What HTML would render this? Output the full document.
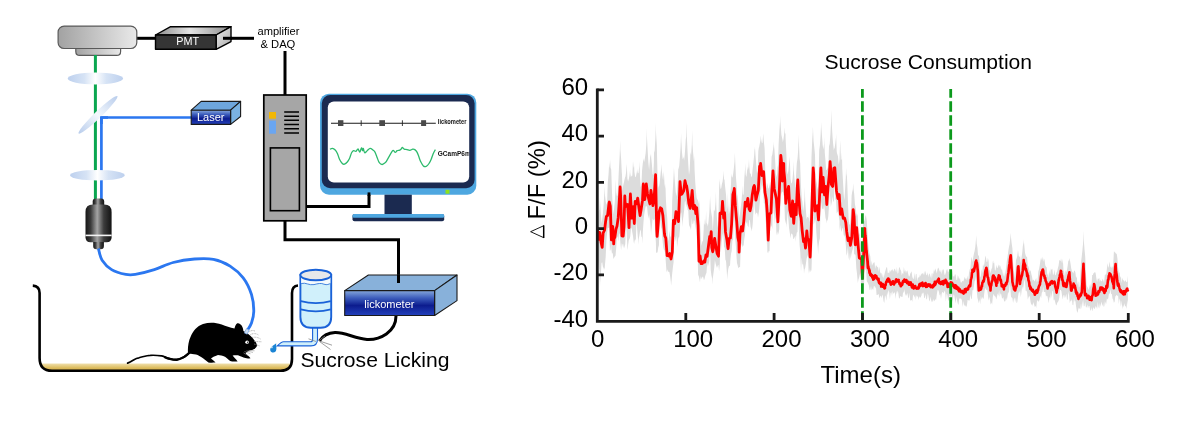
<!DOCTYPE html>
<html><head><meta charset="utf-8">
<style>
html,body{margin:0;padding:0;background:#fff;width:1178px;height:422px;overflow:hidden}
svg{display:block;position:absolute;left:0;top:0;will-change:transform}
text{font-family:"Liberation Sans",sans-serif}
</style></head>
<body>
<svg width="1178" height="422" viewBox="0 0 1178 422">
<defs>
 <linearGradient id="detG" x1="0" y1="0" x2="1" y2="0">
  <stop offset="0" stop-color="#a2a2a2"/><stop offset="1" stop-color="#e9e9e9"/>
 </linearGradient>
 <linearGradient id="pmtTop" x1="0" y1="0" x2="1" y2="0">
  <stop offset="0" stop-color="#8a8a8a"/><stop offset="0.45" stop-color="#e4e4e4"/><stop offset="1" stop-color="#8c8c8c"/>
 </linearGradient>
 <linearGradient id="pmtSide" x1="0" y1="0" x2="1" y2="1">
  <stop offset="0" stop-color="#efefef"/><stop offset="1" stop-color="#a8a8a8"/>
 </linearGradient>
 <linearGradient id="blueFront" x1="0" y1="0" x2="0" y2="1">
  <stop offset="0" stop-color="#86a8dc"/><stop offset="0.3" stop-color="#3c5cbc"/><stop offset="0.6" stop-color="#0c1c8e"/><stop offset="1" stop-color="#2442bc"/>
 </linearGradient>
 <linearGradient id="lensG" x1="0" y1="0" x2="1" y2="0">
  <stop offset="0" stop-color="#bdd0ee"/><stop offset="0.3" stop-color="#d6e3f5"/><stop offset="0.5" stop-color="#ffffff"/><stop offset="0.7" stop-color="#d6e3f5"/><stop offset="1" stop-color="#bdd0ee"/>
 </linearGradient>
 <linearGradient id="splitG" x1="0" y1="0" x2="1" y2="0">
  <stop offset="0" stop-color="#b9cdec"/><stop offset="0.5" stop-color="#f4f8fd"/><stop offset="1" stop-color="#b9cdec"/>
 </linearGradient>
 <linearGradient id="objG" x1="0" y1="0" x2="1" y2="0">
  <stop offset="0" stop-color="#161616"/><stop offset="0.2" stop-color="#3a3a3a"/><stop offset="0.45" stop-color="#a4a4a4"/><stop offset="0.7" stop-color="#3c3c3c"/><stop offset="1" stop-color="#121212"/>
 </linearGradient>
 <linearGradient id="floorG" x1="0" y1="0" x2="0" y2="1">
  <stop offset="0" stop-color="#ffffff"/><stop offset="0.3" stop-color="#f4e8be"/><stop offset="0.75" stop-color="#dcbc5e"/><stop offset="1" stop-color="#cfa844"/>
 </linearGradient>
 <clipPath id="scr"><rect x="327.8" y="101.5" width="141.4" height="80.9" rx="6"/></clipPath>
</defs>

<!-- ============ LEFT DIAGRAM ============ -->
<!-- wires -->
<g fill="none" stroke="#000" stroke-width="3">
 <path d="M136 38.3 H156"/>
 <path d="M223 38.3 H254"/>
 <path d="M285 51 V95"/>
 <path d="M306 206.5 H369 V194"/>
 <path d="M285 221 V239.7 H398.5 V283"/>
 <path d="M396 316 C396 332 380 340 367 339.4 C355 338.6 345 332.2 335 332.6 C327 333 322 337 319.5 341"/>
</g>

<!-- detector -->
<rect x="58.1" y="26.1" width="78.7" height="22.4" rx="6" fill="url(#detG)" stroke="#5a5a5a" stroke-width="1.2"/>
<path d="M75.8 48.5 H120.6 V51.4 Q120.6 55.4 116.6 55.4 H79.8 Q75.8 55.4 75.8 51.4 Z" fill="url(#detG)" stroke="#5a5a5a" stroke-width="1.2"/>

<!-- PMT -->
<g stroke="#000" stroke-width="1.4" stroke-linejoin="round">
 <path d="M155.5 35 L170.6 26.7 H231 L216.1 35 Z" fill="url(#pmtTop)"/>
 <path d="M216.1 35 L231 26.7 V41.6 L216.1 49.3 Z" fill="url(#pmtSide)"/>
 <rect x="155.5" y="35" width="60.6" height="14.3" fill="#353535"/>
</g>
<path d="M223 38.3 H232" stroke="#000" stroke-width="3"/>
<text x="176.2" y="44.8" font-size="10.8" fill="#fff">PMT</text>

<text x="257.5" y="34.5" font-size="11.1" fill="#000">amplifier</text>
<text x="260.5" y="48" font-size="11.2" fill="#000">&amp; DAQ</text>

<!-- green emission path -->
<path d="M95.4 55 V200" stroke="#0aa650" stroke-width="3" fill="none"/>
<!-- blue excitation path -->
<path d="M192 117.5 H101.4 V200" stroke="#2b77f0" stroke-width="2.7" fill="none"/>

<!-- lenses -->
<ellipse cx="95.4" cy="78.5" rx="27.6" ry="5.9" fill="url(#lensG)"/>
<ellipse cx="97.4" cy="175.2" rx="27.4" ry="5.3" fill="url(#lensG)"/>
<!-- beam splitter -->
<ellipse cx="98" cy="114.8" rx="27" ry="3.4" fill="url(#splitG)" transform="rotate(-44 98 114.8)"/>
<path d="M108 117.5 H101.4 V124" stroke="#2b77f0" stroke-width="2.7" fill="none"/>

<!-- laser -->
<g stroke="#1a1a1a" stroke-width="1.1" stroke-linejoin="round">
 <path d="M191.2 110.2 L201.1 101.4 H240.6 L230.6 110.2 Z" fill="#6ea6dc"/>
 <path d="M230.6 110.2 L240.6 101.4 V116.5 L230.6 124.4 Z" fill="#7ab2e2"/>
 <rect x="191.2" y="110.2" width="39.4" height="14.2" fill="url(#blueFront)"/>
</g>
<text x="197" y="120.9" font-size="11" fill="#fff">Laser</text>

<!-- objective -->
<path d="M92.7 205 V201.5 Q92.7 198.5 95.7 198.5 H101.2 Q104.2 198.5 104.2 201.5 V205 Z" fill="url(#objG)"/>
<path d="M85.5 237.3 V212 Q85.5 204.6 92.9 204.6 H104.2 Q111.6 204.6 111.6 212 V237.3 Q111.6 242.3 106.6 242.3 H90.5 Q85.5 242.3 85.5 237.3 Z" fill="url(#objG)"/>
<rect x="85.5" y="234.6" width="26.1" height="1.6" fill="#f4f4f4"/>
<path d="M93.2 242 H103.9 V246 Q103.9 249.2 100.7 249.2 H96.4 Q93.2 249.2 93.2 246 Z" fill="url(#objG)"/>

<!-- fiber to mouse -->
<path d="M98.4 248.5 C99.2 251.3 99.9 256.8 102.1 260.2 C104.3 263.6 107.6 267.2 111.6 269.6 C115.5 272.0 121.8 273.6 125.8 274.4 C129.8 275.2 130.6 275.2 135.3 274.4 C140.1 273.6 148.0 271.6 154.3 269.6 C160.6 267.6 166.5 264.3 173.2 262.5 C179.9 260.7 187.9 259.5 194.6 259.0 C201.3 258.5 207.6 258.2 213.5 259.4 C219.4 260.6 225.2 263.0 230.1 266.1 C235.0 269.2 239.6 273.2 243.2 277.9 C246.8 282.6 249.7 289.0 251.5 294.5 C253.3 300.0 253.8 306.4 253.8 311.1 C253.8 315.9 252.7 319.6 251.5 323.0 C250.3 326.4 247.5 329.9 246.7 331.3" stroke="#2b77f0" stroke-width="2.8" fill="none"/>

<!-- tower -->
<rect x="263.8" y="95" width="42.4" height="125.8" fill="#a6a6a6" stroke="#000" stroke-width="1.7"/>
<rect x="269" y="112" width="7" height="6.7" fill="#f2b705"/>
<rect x="269" y="120.6" width="7" height="13.1" fill="#6aa6f2"/>
<g stroke="#000" stroke-width="1.6">
 <path d="M284.2 112 H299 M284.2 116.2 H299 M284.2 120.3 H299 M284.2 124.5 H299 M284.2 128.7 H299 M284.2 133 H299"/>
</g>
<rect x="270.4" y="147.9" width="29" height="62.8" fill="#a6a6a6" stroke="#000" stroke-width="1.6"/>

<!-- monitor -->
<rect x="320" y="93.7" width="156.3" height="101" rx="9" fill="#4ea7e0"/>
<rect x="321.8" y="95" width="152.8" height="93.3" rx="8.5" fill="#1b2a50"/>
<rect x="327.8" y="101.5" width="141.4" height="80.9" rx="6" fill="#fff"/>
<rect x="445.5" y="189.8" width="4" height="3.9" fill="#8fe21a"/>
<path d="M369 196 V192.4" stroke="#000" stroke-width="2.8"/>
<rect x="384.5" y="194.7" width="27.3" height="19.6" fill="#1b2a50"/>
<rect x="352.5" y="214" width="91.7" height="7.3" rx="2" fill="#1b2a50"/>
<rect x="352.5" y="214" width="91.7" height="3.7" rx="1.5" fill="#4ea7e0"/>
<g clip-path="url(#scr)">
 <path d="M331 123.3 H435.8" stroke="#1a1a1a" stroke-width="1.1"/>
 <g fill="#4a4a4a">
  <rect x="338" y="120.2" width="5.4" height="5.8"/>
  <rect x="379.3" y="120.2" width="5.7" height="5.8"/>
  <rect x="421.1" y="120.2" width="5" height="5.8"/>
 </g>
 <path d="M361.2 120.3 V126 M402.4 120.3 V126" stroke="#222" stroke-width="0.9"/>
 <text x="437.8" y="124.1" font-size="8" fill="#111" textLength="28.6" lengthAdjust="spacingAndGlyphs" style="font-weight:bold">lickometer</text>
 <path d="M329.9 149.2 C330.3 149.1 331.5 148.3 332.4 148.4 C333.3 148.5 334.4 149.2 335.2 150.0 C336.0 150.8 336.7 152.0 337.4 153.5 C338.1 155.0 338.7 157.5 339.5 159.2 C340.3 160.9 341.5 162.7 342.3 163.5 C343.1 164.3 343.7 164.4 344.5 164.2 C345.3 163.9 346.5 162.9 347.3 162.0 C348.1 161.1 348.8 160.0 349.5 158.5 C350.2 157.0 350.9 154.1 351.6 152.8 C352.3 151.5 353.0 150.9 353.7 150.7 C354.4 150.5 355.2 151.7 355.9 151.4 C356.6 151.1 357.4 148.8 358.0 148.9 C358.6 149.0 359.2 152.3 359.8 152.1 C360.4 151.9 361.0 148.0 361.5 147.8 C362.0 147.6 362.3 150.6 362.6 150.7 C362.9 150.8 363.0 148.2 363.3 148.5 C363.6 148.8 364.1 152.4 364.7 152.8 C365.3 153.2 366.3 151.4 367.2 150.7 C368.1 150.0 369.2 148.5 370.1 148.4 C371.1 148.3 372.1 149.4 372.9 150.0 C373.7 150.6 374.3 150.8 375.0 152.1 C375.7 153.4 376.5 156.0 377.2 157.8 C377.9 159.6 378.5 161.6 379.3 162.7 C380.1 163.8 381.2 164.5 382.1 164.5 C383.1 164.5 384.3 163.2 385.0 162.7 C385.7 162.2 385.7 162.4 386.4 161.3 C387.1 160.2 388.2 158.0 389.2 156.3 C390.1 154.7 391.4 152.4 392.1 151.4 C392.8 150.4 393.0 150.3 393.5 150.5 C394.0 150.7 394.7 152.4 395.3 152.4 C395.9 152.4 396.5 151.0 397.1 150.7 C397.8 150.3 398.6 150.6 399.2 150.3 C399.8 150.1 400.5 149.7 401.0 149.2 C401.5 148.7 401.9 147.5 402.4 147.5 C402.9 147.5 403.4 148.8 404.2 149.1 C405.0 149.4 406.1 149.4 407.0 149.6 C407.9 149.8 408.9 150.4 409.9 150.3 C410.8 150.2 411.9 149.3 412.7 149.2 C413.5 149.1 414.1 149.1 414.8 149.6 C415.5 150.1 416.4 151.0 417.0 152.1 C417.6 153.2 418.1 154.8 418.7 156.3 C419.3 157.8 419.7 159.7 420.5 161.3 C421.3 162.9 422.4 165.1 423.4 165.9 C424.3 166.7 425.3 166.7 426.2 166.3 C427.1 165.9 428.2 164.7 429.0 163.5 C429.8 162.3 430.5 160.9 431.2 159.2 C431.9 157.5 432.6 155.1 433.3 153.5 C434.0 151.9 435.0 150.2 435.4 149.6" fill="none" stroke="#2dba6c" stroke-width="1.3"/>
 <text x="437.8" y="155.9" font-size="7.4" fill="#111" textLength="33" lengthAdjust="spacingAndGlyphs" style="font-weight:bold">GCamP6m</text>
</g>

<!-- cage -->
<path d="M39.6 363.6 H292 V360 Q292 370.8 280.5 370.8 H52 Q39.6 370.8 39.6 359 Z" fill="url(#floorG)"/>
<path d="M32.8 285.6 Q39.6 286 39.6 293 V358 Q39.6 370.8 52 370.8 H280.5 Q292 370.8 292 359 V293 Q292 286 298 285.5" fill="none" stroke="#000" stroke-width="2.6"/>

<!-- mouse tail -->
<path d="M127.6 363.1 C133 361 135 358 139 357.8 C144 356.5 147 355.3 150.3 355.3 C156 355 159 355.5 161.7 355.9 C165 356.6 167 358.4 169.3 358.7 C172 359.3 174 359.8 176.8 359.7 C180 359.4 182 358 184.4 356.8 C186.5 355.5 188.5 353.5 190.1 352.1" fill="none" stroke="#000" stroke-width="1.7" stroke-linecap="round"/>
<path d="M165 357.3 C167 358.4 169.3 358.7 169.3 358.7 C172 359.3 174 359.8 176.8 359.7 C180 359.4 182 358 184.4 356.8 C186.5 355.5 188.5 353.5 190.1 352.1" fill="none" stroke="#000" stroke-width="2.4" stroke-linecap="round"/>
<!-- mouse body -->
<path d="M188 353 C187.5 348 188.5 341 190.5 337 C193 331 197 326 203 324 C209 322.2 215 322.2 221.7 324.6 C226 326 230 328 234.5 328.5 C235.2 326 236 323.3 238 323.3 C240.8 323.5 243.2 326.8 243.4 331 C246.5 332.5 250 335 253 338.5 C255.5 341.5 257.5 344.5 256.8 346.3 C256 348.5 253.5 349.5 250.5 350.3 C248 351.2 246 352.2 245.8 353.5 C247 355 249.5 356.5 250.5 358.2 C248 358.6 245 358.4 243.5 357.6 C241 356.5 239.5 355.6 238 355.2 C236 355.2 233.6 355 232.6 355.6 C233.6 357.3 236.2 359.6 237.6 361.4 C234.8 361.7 231.8 361.6 230.2 361 C228 359.5 226.2 357.5 225 356.8 C222.6 355.8 220 355 218 355 C214.5 356.3 212 357.4 211 358.6 C212.5 360 214.5 361.5 215.5 362.6 C212.6 362.8 210 362.8 208.4 362.5 C206.5 361 204.6 359.5 203 358.2 C200.5 356.6 198.2 355 196 354.4 C193.5 354 190.5 354 188 353 Z" fill="#000"/>
<ellipse cx="247.1" cy="342.2" rx="1.8" ry="1.6" fill="#fff"/>
<circle cx="247.7" cy="342.3" r="0.7" fill="#222"/>
<!-- ferrule -->
<path d="M244.4 333 L246.4 328.6 L249.2 330 L247.2 334.2 Z" fill="#cfe0f4" stroke="#6f9fe0" stroke-width="0.6"/>
<!-- whiskers -->
<g stroke="#8a8a8a" stroke-width="0.7" fill="none" stroke-dasharray="0.9 0.7">
 <path d="M249.5 331.5 Q253 329.5 255.5 331.5 M250.5 334.5 Q255 332.5 258.5 335 M252 337.5 Q257 336.5 260.5 339 M254 341.5 L262 341.8 M254 344 L260 346"/>
</g>
<g stroke="#9a9a9a" stroke-width="0.6" fill="none">
 <path d="M244.5 351.5 L250.5 353.8 M246.5 350.8 L253 352.5 M248.5 350.4 L254.5 350.8 M243.5 352.8 L248 355.5"/>
</g>

<!-- drop -->
<path d="M276.2 343.3 C275.8 346 277.3 349.2 275.6 351.5 C274 353 271 352.8 270.3 350.4 C269.8 347.5 273 345.8 276.2 343.3 Z" fill="#1a84d4"/>
<ellipse cx="271.9" cy="347.3" rx="0.8" ry="1.1" fill="#d8ecfa"/>

<!-- bottle -->
<path d="M312.6 326 V339.8 Q312.6 341.8 310.5 341.8 H283.5 Q281.5 341.8 277.2 345.9 H311 Q317.5 345.9 317.5 339 V326 Z" fill="#d0f0fb" stroke="#1a62d8" stroke-width="1.1"/>
<path d="M300.4 275 V317 Q300.4 327.7 311 327.7 H320.6 Q331.2 327.7 331.2 317 V275 Z" fill="#d0f0fb" stroke="#1a62d8" stroke-width="1.9"/>
<path d="M301.2 276 V283.5 C306 282.2 309 285.6 314 284.6 C318 283.6 321 282.8 324 284.2 C327 285.4 329 284 330.4 283.5 V276 Z" fill="#f4fafd"/>
<path d="M301.2 283.5 C306 282.2 309 285.6 314 284.6 C318 283.6 321 282.8 324 284.2 C327 285.4 329 284 330.4 283.5" fill="none" stroke="#1a66d6" stroke-width="0.8"/>
<path d="M300.8 301.2 Q315.8 305.2 330.8 301.2 M300.8 309.4 Q315.8 313.4 330.8 309.4" fill="none" stroke="#1a62d8" stroke-width="1.8"/>
<ellipse cx="315.8" cy="275" rx="15.4" ry="5.3" fill="#e8e8ea" stroke="#1a62d8" stroke-width="1.9"/>
<g stroke="#888" stroke-width="0.8" fill="none">
 <path d="M319.5 341 L332 345.2 M319.5 341.5 L330.5 349.5 M319 340.5 L325 336 M316 341.5 L308.5 338.8"/>
</g>

<!-- lickometer -->
<g stroke="#1a1a1a" stroke-width="1.1" stroke-linejoin="round">
 <path d="M344.7 290.6 L368.4 275 H457 L434.6 290.6 Z" fill="#88b1da"/>
 <path d="M434.6 290.6 L457 275 V300.6 L434.6 315.5 Z" fill="#88b1da"/>
 <rect x="344.7" y="290.6" width="89.9" height="24.9" fill="url(#blueFront)"/>
</g>
<path d="M398.5 275 V283" stroke="#000" stroke-width="3"/>
<text x="364.3" y="308.4" font-size="11" fill="#fff">lickometer</text>

<text x="300.5" y="366.5" font-size="21.1" fill="#000">Sucrose Licking</text>

<!-- ============ CHART ============ -->
<path d="M597.3 221.6 L598.0 216.6 L598.7 210.8 L599.4 209.8 L600.0 197.2 L600.1 201.4 L600.8 212.4 L601.5 223.5 L602.2 219.4 L602.9 213.4 L603.6 205.4 L604.3 193.2 L604.5 186.2 L605.0 195.6 L605.7 201.4 L606.4 204.7 L607.1 202.8 L607.8 182.1 L608.5 174.7 L609.0 166.6 L609.2 167.8 L609.9 162.4 L610.0 158.8 L610.6 167.8 L611.2 169.6 L611.3 171.9 L612.0 192.6 L612.7 205.0 L613.4 214.3 L614.1 208.7 L614.8 202.0 L615.5 188.4 L615.7 179.1 L616.2 192.2 L616.9 196.0 L617.6 195.5 L617.8 190.5 L618.3 181.4 L619.0 167.3 L619.7 154.8 L620.2 140.3 L620.4 149.7 L621.1 158.3 L621.8 172.3 L622.0 174.7 L622.5 190.9 L623.2 185.6 L623.9 182.5 L624.6 179.2 L625.3 176.5 L625.4 177.0 L626.0 173.1 L626.7 164.2 L626.7 162.4 L627.4 178.5 L628.1 181.4 L628.8 179.0 L629.5 175.5 L630.1 169.4 L630.2 172.8 L630.9 177.2 L631.6 175.7 L632.3 175.7 L633.0 161.1 L633.0 161.1 L633.7 168.1 L634.1 166.0 L634.4 171.8 L635.1 176.5 L635.8 177.2 L636.5 173.5 L636.8 172.3 L637.2 168.0 L637.2 170.1 L637.9 173.4 L638.6 172.8 L639.3 165.4 L639.4 160.7 L640.0 176.2 L640.7 187.3 L641.4 185.2 L642.1 170.1 L642.8 163.3 L643.5 158.9 L643.5 157.8 L643.9 160.4 L644.2 161.9 L644.9 157.9 L645.6 153.4 L646.3 144.8 L646.8 128.0 L646.9 135.4 L647.0 138.2 L647.7 150.7 L648.4 162.9 L649.1 170.0 L649.8 161.3 L650.3 154.7 L650.5 157.0 L651.0 153.3 L651.2 157.4 L651.9 164.3 L652.6 174.1 L653.3 175.3 L653.9 162.4 L654.0 153.1 L654.7 150.2 L655.4 137.7 L655.8 122.5 L655.9 130.5 L656.1 134.0 L656.8 144.8 L657.5 174.7 L658.2 189.4 L658.7 185.2 L658.9 187.3 L659.6 183.5 L660.3 176.4 L661.0 169.8 L661.3 165.2 L661.4 164.0 L661.7 169.7 L662.4 175.5 L663.1 180.3 L663.8 171.0 L663.8 171.0 L664.5 183.7 L665.2 188.2 L665.4 182.9 L665.9 199.5 L666.6 211.6 L667.3 218.6 L668.0 241.3 L668.7 238.9 L669.4 231.1 L669.4 229.4 L670.1 235.9 L670.8 237.0 L671.5 240.5 L672.2 200.6 L672.9 188.3 L673.6 175.3 L674.0 166.3 L674.0 168.0 L674.3 173.6 L675.0 183.0 L675.7 192.0 L676.4 196.4 L677.1 191.3 L677.8 181.7 L678.2 169.5 L678.5 168.8 L679.2 166.0 L679.9 157.5 L680.6 147.1 L681.1 132.7 L681.3 140.4 L681.3 140.4 L682.0 152.4 L682.7 159.6 L683.4 157.2 L683.5 156.2 L684.1 160.7 L684.8 154.1 L685.5 144.0 L685.7 140.1 L686.2 136.2 L686.6 122.5 L686.9 137.4 L687.6 152.5 L688.3 164.9 L689.0 174.9 L689.7 169.8 L690.4 153.7 L690.4 152.0 L691.1 155.0 L691.8 144.5 L692.2 130.3 L692.5 144.4 L693.2 153.6 L693.9 161.4 L694.2 155.6 L694.6 170.3 L695.3 182.9 L696.0 192.0 L696.7 198.0 L697.4 199.5 L698.1 200.6 L698.8 204.3 L699.1 199.5 L699.5 204.1 L700.2 225.4 L700.9 239.4 L701.6 245.8 L702.3 241.6 L703.0 241.0 L703.7 229.5 L704.1 218.5 L704.4 223.4 L705.1 225.2 L705.8 219.0 L706.1 210.6 L706.5 223.1 L707.2 224.0 L707.9 226.5 L708.6 220.6 L709.3 212.4 L710.0 197.9 L710.0 194.9 L710.7 208.8 L711.4 213.6 L712.1 217.5 L712.8 230.7 L713.5 218.1 L713.9 209.5 L714.2 211.6 L714.9 209.4 L715.6 202.0 L715.9 191.4 L716.3 205.8 L717.0 219.6 L717.7 227.9 L718.4 220.6 L719.1 188.0 L719.8 178.3 L719.8 180.3 L720.5 189.1 L721.2 188.2 L721.9 184.1 L722.6 181.6 L723.3 175.0 L723.5 170.5 L724.0 179.6 L724.5 179.4 L724.7 182.5 L725.4 189.3 L726.1 195.5 L726.8 211.4 L727.5 206.0 L727.9 192.7 L728.2 203.9 L728.9 214.2 L729.6 210.6 L730.3 193.7 L731.0 184.7 L731.3 173.3 L731.7 176.3 L732.4 177.7 L733.1 174.5 L733.8 168.7 L734.4 162.7 L734.5 161.7 L734.9 152.6 L735.2 160.5 L735.9 176.1 L736.6 185.2 L737.3 196.3 L737.4 193.9 L738.0 200.5 L738.7 211.1 L739.4 218.2 L740.1 212.6 L740.8 206.9 L741.5 200.9 L742.2 192.0 L742.4 185.2 L742.9 195.5 L743.6 193.9 L744.3 178.2 L745.0 169.2 L745.2 162.8 L745.7 174.8 L746.4 177.1 L747.1 171.1 L747.5 166.3 L747.8 169.9 L748.5 166.9 L749.0 159.0 L749.2 164.5 L749.9 173.2 L750.6 174.0 L750.7 172.4 L751.3 177.6 L752.0 176.0 L752.7 168.6 L753.4 162.8 L754.1 155.7 L754.5 149.7 L754.8 148.7 L754.9 146.2 L755.5 155.3 L756.2 163.4 L756.9 172.6 L757.6 172.6 L758.3 151.3 L758.9 147.2 L759.0 147.7 L759.7 144.1 L760.4 140.3 L760.8 135.4 L761.1 138.9 L761.8 142.8 L762.5 142.9 L763.2 133.2 L763.2 133.2 L763.8 140.8 L763.9 142.1 L764.6 148.4 L765.3 170.9 L766.0 181.4 L766.7 188.2 L767.4 182.9 L767.4 182.4 L768.1 187.4 L768.8 189.1 L769.5 182.0 L769.5 184.0 L770.2 190.2 L770.9 180.5 L771.6 156.7 L772.3 154.6 L773.0 149.5 L773.7 144.4 L773.8 141.5 L774.1 147.0 L774.4 149.2 L775.1 159.8 L775.8 173.3 L776.5 177.6 L777.2 173.2 L777.6 165.2 L777.9 167.4 L778.6 144.5 L779.3 131.3 L780.0 122.0 L780.2 115.4 L780.4 121.7 L780.7 125.6 L781.4 134.8 L782.1 138.0 L782.6 140.2 L782.8 142.2 L783.5 139.0 L784.2 133.4 L784.5 127.2 L784.9 133.1 L785.5 133.7 L785.6 138.6 L786.3 151.8 L787.0 170.9 L787.7 174.8 L788.4 170.6 L789.1 163.6 L789.8 156.2 L789.8 157.9 L790.5 178.7 L791.2 182.7 L791.9 183.5 L792.6 178.3 L793.3 169.8 L793.6 161.1 L794.0 173.3 L794.7 180.9 L795.4 188.8 L796.1 175.0 L796.8 163.3 L797.5 158.7 L797.8 155.3 L798.2 149.0 L798.7 134.4 L798.9 142.2 L799.6 158.6 L800.2 163.6 L800.3 168.4 L801.0 186.7 L801.7 197.6 L802.4 202.0 L803.1 211.5 L803.8 206.0 L804.5 197.4 L804.7 186.7 L805.2 200.5 L805.9 210.1 L806.6 219.3 L807.3 217.1 L808.0 216.9 L808.7 218.4 L809.0 212.7 L809.4 219.7 L810.1 222.7 L810.8 200.2 L811.5 157.1 L812.2 139.9 L812.7 132.6 L812.9 126.5 L812.9 126.5 L813.6 141.3 L814.3 147.6 L815.0 155.0 L815.7 185.9 L816.4 181.0 L816.5 178.0 L817.1 186.6 L817.8 189.7 L818.5 182.9 L819.2 150.2 L819.9 145.1 L820.6 135.2 L821.2 121.8 L821.3 125.9 L821.4 127.7 L822.0 135.9 L822.7 145.3 L823.4 149.4 L824.1 143.8 L824.2 136.7 L824.8 152.9 L825.5 161.1 L826.2 170.3 L826.9 170.0 L827.4 165.9 L827.6 169.2 L828.3 167.3 L829.0 146.2 L829.7 143.7 L830.4 134.6 L831.1 120.9 L831.4 109.0 L831.4 110.4 L831.8 124.2 L832.5 136.2 L833.2 144.4 L833.9 150.5 L834.1 148.8 L834.6 147.9 L835.3 143.6 L836.0 137.2 L836.1 133.2 L836.7 151.2 L837.4 156.4 L837.9 153.1 L838.1 157.7 L838.8 164.8 L839.5 159.6 L840.2 140.3 L840.2 140.3 L840.9 160.1 L841.6 159.2 L841.9 152.2 L842.3 169.0 L843.0 181.5 L843.7 194.5 L844.4 200.4 L845.1 189.6 L845.8 177.3 L846.1 167.5 L846.5 176.3 L846.8 173.7 L847.2 181.8 L847.9 200.2 L848.6 218.7 L849.3 224.0 L850.0 225.0 L850.7 217.5 L851.4 203.4 L851.6 196.1 L852.1 192.3 L852.8 189.4 L853.2 182.9 L853.5 188.6 L854.2 193.7 L854.9 203.7 L855.6 208.0 L856.1 211.2 L856.3 213.3 L857.0 216.2 L857.7 213.5 L858.4 234.9 L859.1 232.7 L859.8 235.3 L859.8 236.8 L860.5 241.1 L861.2 245.6 L861.9 247.8 L862.6 243.7 L863.3 215.5 L864.0 221.6 L864.7 220.1 L865.4 216.1 L866.0 215.0 L866.1 216.3 L866.8 220.5 L867.5 233.3 L868.2 243.7 L868.9 250.0 L869.6 254.0 L870.3 256.3 L871.0 266.2 L871.7 260.6 L872.4 265.6 L873.1 263.4 L873.8 262.4 L874.5 262.3 L875.2 269.1 L875.9 265.2 L876.6 265.8 L877.3 267.6 L878.0 266.4 L878.7 271.8 L879.4 266.5 L880.1 272.0 L880.8 273.4 L881.5 273.1 L882.2 277.6 L882.9 273.4 L883.6 278.5 L884.3 275.1 L885.0 272.0 L885.7 269.8 L886.4 267.2 L887.1 267.4 L887.8 273.2 L888.5 272.4 L889.2 273.3 L889.9 269.7 L890.6 271.9 L891.3 269.6 L892.0 271.1 L892.7 268.7 L893.4 271.7 L894.1 269.6 L894.8 268.6 L895.5 270.4 L896.2 272.4 L896.9 267.0 L897.6 273.8 L898.3 272.9 L899.0 268.0 L899.7 267.0 L900.4 269.8 L901.1 270.8 L901.8 275.4 L902.5 272.7 L903.2 274.2 L903.9 266.7 L904.6 272.0 L905.3 269.9 L906.0 273.2 L906.7 271.1 L907.4 270.5 L908.1 273.5 L908.8 276.3 L909.5 276.6 L910.2 273.7 L910.9 272.5 L911.6 271.3 L912.3 277.1 L913.0 278.4 L913.7 279.3 L914.4 272.5 L915.1 280.4 L915.8 274.3 L916.5 273.8 L917.2 281.6 L917.9 277.6 L918.6 277.5 L919.3 277.2 L920.0 274.3 L920.7 276.5 L921.4 273.6 L922.1 273.9 L922.8 272.7 L923.5 275.0 L924.2 271.0 L924.9 275.0 L925.6 270.6 L926.3 275.1 L927.0 275.2 L927.7 272.2 L928.4 277.2 L929.1 273.5 L929.8 273.9 L930.5 278.0 L931.2 272.7 L931.9 279.1 L932.6 273.1 L933.3 273.9 L934.0 269.1 L934.7 271.9 L935.4 268.3 L936.1 271.1 L936.8 273.4 L937.5 269.2 L938.2 267.5 L938.9 268.7 L939.6 271.1 L940.3 272.2 L941.0 269.5 L941.7 274.2 L942.4 270.3 L943.1 269.0 L943.8 270.3 L944.5 274.8 L945.2 274.8 L945.9 272.6 L946.6 269.7 L947.3 269.0 L948.0 272.4 L948.7 270.9 L949.4 274.0 L950.1 274.2 L950.8 271.5 L951.5 271.9 L952.2 271.1 L952.9 275.9 L953.6 276.5 L954.3 276.5 L955.0 273.9 L955.7 275.0 L956.4 280.0 L957.1 280.1 L957.8 274.9 L958.5 277.1 L959.2 279.8 L959.9 277.6 L960.6 282.2 L961.3 282.7 L962.0 281.6 L962.7 281.1 L963.4 281.6 L964.1 278.9 L964.8 276.8 L965.5 279.2 L966.2 278.0 L966.9 280.3 L967.6 275.5 L968.3 280.5 L969.0 272.7 L969.7 269.6 L970.4 267.4 L971.1 259.7 L971.8 256.7 L972.5 262.3 L973.2 257.5 L973.9 253.8 L974.6 251.1 L975.3 246.7 L976.0 238.9 L976.2 235.0 L976.7 243.8 L977.4 247.4 L978.1 256.0 L978.8 255.0 L979.5 260.5 L980.2 277.6 L980.9 276.0 L981.6 268.9 L982.3 273.3 L983.0 263.7 L983.7 266.4 L984.4 263.4 L985.1 258.0 L985.8 255.4 L986.5 261.7 L987.2 262.0 L987.9 257.7 L988.6 261.0 L989.3 270.4 L990.0 270.0 L990.7 273.4 L991.4 269.0 L992.1 267.9 L992.8 261.6 L993.2 260.5 L993.5 263.4 L994.2 262.6 L994.9 270.2 L995.6 270.6 L996.3 264.8 L997.0 268.3 L997.7 267.8 L998.4 264.3 L999.1 267.6 L999.8 264.7 L1000.5 266.6 L1001.2 270.2 L1001.9 268.2 L1002.6 272.4 L1003.3 276.4 L1004.0 272.1 L1004.7 277.0 L1005.4 272.1 L1006.1 267.5 L1006.8 261.0 L1007.5 257.2 L1008.2 251.7 L1008.9 247.3 L1009.6 244.3 L1010.3 237.6 L1010.7 232.8 L1011.0 237.4 L1011.7 243.5 L1012.4 248.2 L1013.1 263.1 L1013.8 269.4 L1014.5 275.4 L1015.2 278.9 L1015.9 260.3 L1016.6 258.4 L1017.3 255.9 L1018.0 250.0 L1018.0 250.0 L1018.7 256.0 L1019.4 257.2 L1020.1 255.5 L1020.8 263.0 L1021.5 257.5 L1022.2 253.1 L1022.9 245.5 L1023.6 242.5 L1023.7 239.2 L1024.3 245.5 L1025.0 252.7 L1025.7 255.4 L1026.4 256.8 L1027.1 256.9 L1027.8 265.2 L1028.5 266.7 L1029.2 269.7 L1029.9 271.7 L1030.6 269.9 L1031.3 273.9 L1032.0 276.4 L1032.7 280.7 L1033.4 279.4 L1034.1 280.5 L1034.8 281.5 L1035.5 279.6 L1036.2 278.0 L1036.9 282.6 L1037.6 280.3 L1038.3 271.6 L1039.0 269.3 L1039.7 265.4 L1040.4 260.8 L1041.1 257.5 L1041.8 260.5 L1042.3 256.3 L1042.5 258.6 L1043.2 261.7 L1043.9 258.3 L1044.6 260.3 L1045.3 265.4 L1046.0 266.8 L1046.7 267.4 L1047.4 275.4 L1048.1 273.1 L1048.8 278.1 L1049.5 270.1 L1050.2 274.8 L1050.9 268.2 L1051.6 270.0 L1052.3 268.6 L1053.0 275.1 L1053.7 274.2 L1054.4 269.4 L1055.1 275.6 L1055.8 274.7 L1056.5 272.4 L1057.2 271.3 L1057.9 268.1 L1058.6 265.6 L1059.3 260.1 L1060.0 260.4 L1060.7 260.9 L1061.0 258.0 L1061.4 260.2 L1062.1 263.6 L1062.8 258.7 L1063.5 270.5 L1064.2 272.3 L1064.9 277.0 L1065.6 270.2 L1066.3 272.6 L1067.0 269.8 L1067.7 265.5 L1068.4 260.2 L1069.1 261.0 L1069.4 258.0 L1069.8 259.4 L1070.5 263.4 L1071.2 268.2 L1071.9 271.3 L1072.6 272.0 L1073.3 273.6 L1074.0 270.9 L1074.7 270.5 L1075.4 272.6 L1076.1 278.1 L1076.8 276.2 L1077.5 284.9 L1078.2 281.1 L1078.9 287.6 L1079.6 286.4 L1080.3 276.4 L1081.0 262.7 L1081.7 256.7 L1082.4 250.6 L1083.1 243.1 L1083.5 230.7 L1083.8 240.2 L1084.5 249.2 L1085.2 256.4 L1085.9 272.0 L1086.6 285.0 L1087.3 286.8 L1088.0 287.9 L1088.7 289.9 L1089.4 286.9 L1090.1 283.7 L1090.8 287.0 L1091.5 284.4 L1092.2 275.0 L1092.9 275.1 L1093.6 273.0 L1094.3 272.7 L1095.0 271.8 L1095.7 273.6 L1096.4 278.5 L1097.1 282.2 L1097.8 278.6 L1098.5 279.0 L1099.2 277.8 L1099.9 282.1 L1100.6 279.5 L1101.3 281.2 L1102.0 281.3 L1102.7 278.6 L1103.4 280.7 L1104.1 283.1 L1104.8 274.9 L1105.5 274.6 L1106.2 274.3 L1106.9 268.8 L1107.6 262.9 L1108.3 268.1 L1109.0 265.7 L1109.7 261.3 L1110.4 267.4 L1111.1 266.2 L1111.8 268.2 L1112.5 266.9 L1113.2 265.2 L1113.9 251.4 L1114.6 251.7 L1115.3 253.6 L1115.5 252.0 L1116.0 253.7 L1116.7 253.7 L1117.4 258.2 L1118.1 268.1 L1118.8 273.8 L1119.5 271.8 L1120.2 278.1 L1120.9 276.0 L1121.6 283.2 L1122.3 277.6 L1123.0 280.5 L1123.7 280.0 L1124.4 281.9 L1125.1 279.9 L1125.8 280.9 L1126.5 282.3 L1127.2 281.8 L1127.9 275.8 L1127.9 305.2 L1127.2 300.0 L1126.5 309.0 L1125.8 306.1 L1125.1 306.5 L1124.4 303.0 L1123.7 307.4 L1123.0 304.8 L1122.3 309.3 L1121.6 300.6 L1120.9 306.7 L1120.2 300.8 L1119.5 298.6 L1118.8 304.1 L1118.1 295.6 L1117.4 296.1 L1116.7 294.7 L1116.0 295.8 L1115.3 296.5 L1114.6 301.8 L1113.9 302.7 L1113.2 299.7 L1112.5 298.6 L1111.8 293.7 L1111.1 294.2 L1110.4 289.0 L1109.7 294.3 L1109.0 293.1 L1108.3 298.3 L1107.6 299.6 L1106.9 298.2 L1106.2 304.0 L1105.5 301.5 L1104.8 306.9 L1104.1 301.0 L1103.4 307.0 L1102.7 305.6 L1102.0 303.9 L1101.3 301.6 L1100.6 307.1 L1099.9 302.9 L1099.2 308.6 L1098.5 306.9 L1097.8 301.8 L1097.1 309.2 L1096.4 307.0 L1095.7 306.0 L1095.0 308.3 L1094.3 309.3 L1093.6 307.1 L1092.9 309.3 L1092.2 311.2 L1091.5 307.1 L1090.8 310.9 L1090.1 309.4 L1089.4 306.0 L1088.7 306.0 L1088.0 308.5 L1087.3 304.6 L1086.6 307.6 L1085.9 307.2 L1085.2 301.8 L1084.5 306.3 L1083.8 306.2 L1083.1 299.4 L1082.4 303.5 L1081.7 309.0 L1081.0 303.1 L1080.3 309.3 L1079.6 308.7 L1078.9 307.5 L1078.2 309.5 L1077.5 313.0 L1076.8 311.1 L1076.1 306.4 L1075.4 301.1 L1074.7 301.4 L1074.0 297.0 L1073.3 305.3 L1072.6 304.9 L1071.9 299.0 L1071.2 300.9 L1070.5 300.7 L1069.8 303.3 L1069.1 295.2 L1068.4 291.6 L1067.7 299.4 L1067.0 299.8 L1066.3 293.8 L1065.6 296.3 L1064.9 298.2 L1064.2 295.1 L1063.5 295.2 L1062.8 299.6 L1062.1 295.9 L1061.4 291.2 L1060.7 290.0 L1060.0 290.1 L1059.3 297.5 L1058.6 300.7 L1057.9 301.9 L1057.2 302.7 L1056.5 305.6 L1055.8 304.4 L1055.1 301.8 L1054.4 299.3 L1053.7 300.5 L1053.0 290.9 L1052.3 291.3 L1051.6 298.1 L1050.9 292.3 L1050.2 298.7 L1049.5 296.5 L1048.8 303.3 L1048.1 299.7 L1047.4 296.2 L1046.7 295.4 L1046.0 296.8 L1045.3 292.0 L1044.6 292.1 L1043.9 292.1 L1043.2 286.6 L1042.5 291.7 L1041.8 292.8 L1041.1 298.2 L1040.4 295.6 L1039.7 298.9 L1039.0 301.5 L1038.3 301.5 L1037.6 300.1 L1036.9 301.4 L1036.2 308.1 L1035.5 305.8 L1034.8 307.1 L1034.1 304.4 L1033.4 302.1 L1032.7 306.0 L1032.0 303.6 L1031.3 305.3 L1030.6 301.9 L1029.9 297.0 L1029.2 295.8 L1028.5 297.4 L1027.8 299.6 L1027.1 292.3 L1026.4 290.5 L1025.7 291.0 L1025.0 282.2 L1024.3 279.1 L1023.6 285.6 L1022.9 289.6 L1022.2 286.3 L1021.5 291.7 L1020.8 297.2 L1020.1 290.3 L1019.4 292.5 L1018.7 292.6 L1018.0 296.5 L1017.3 302.3 L1016.6 303.3 L1015.9 297.3 L1015.2 302.3 L1014.5 297.6 L1013.8 299.2 L1013.1 303.1 L1012.4 298.0 L1011.7 297.5 L1011.0 297.0 L1010.3 287.2 L1009.6 283.9 L1008.9 293.8 L1008.2 291.6 L1007.5 296.1 L1006.8 300.5 L1006.1 297.5 L1005.4 300.9 L1004.7 301.7 L1004.0 300.8 L1003.3 297.0 L1002.6 298.7 L1001.9 297.8 L1001.2 294.3 L1000.5 293.3 L999.8 296.9 L999.1 290.3 L998.4 296.0 L997.7 293.3 L997.0 296.7 L996.3 299.6 L995.6 296.7 L994.9 296.3 L994.2 295.4 L993.5 293.7 L992.8 297.0 L992.1 304.7 L991.4 302.2 L990.7 304.7 L990.0 300.6 L989.3 296.8 L988.6 300.7 L987.9 294.7 L987.2 289.5 L986.5 290.3 L985.8 288.8 L985.1 288.1 L984.4 292.3 L983.7 298.3 L983.0 298.9 L982.3 296.7 L981.6 299.8 L980.9 295.8 L980.2 304.4 L979.5 299.1 L978.8 303.3 L978.1 300.2 L977.4 297.8 L976.7 290.4 L976.0 276.1 L975.3 280.3 L974.6 281.2 L973.9 286.6 L973.2 290.5 L972.5 290.0 L971.8 299.3 L971.1 298.4 L970.4 293.9 L969.7 300.0 L969.0 300.9 L968.3 300.1 L967.6 300.0 L966.9 305.2 L966.2 307.0 L965.5 306.0 L964.8 304.6 L964.1 306.2 L963.4 300.7 L962.7 307.1 L962.0 300.8 L961.3 298.8 L960.6 298.5 L959.9 298.5 L959.2 298.4 L958.5 305.1 L957.8 303.5 L957.1 300.7 L956.4 296.5 L955.7 303.3 L955.0 299.8 L954.3 295.6 L953.6 294.2 L952.9 298.7 L952.2 301.9 L951.5 293.7 L950.8 297.0 L950.1 295.7 L949.4 295.7 L948.7 301.3 L948.0 299.4 L947.3 295.0 L946.6 293.5 L945.9 301.8 L945.2 291.9 L944.5 290.4 L943.8 293.5 L943.1 292.2 L942.4 292.1 L941.7 293.7 L941.0 298.9 L940.3 294.0 L939.6 295.4 L938.9 291.8 L938.2 289.9 L937.5 290.3 L936.8 294.5 L936.1 300.2 L935.4 299.1 L934.7 300.4 L934.0 301.5 L933.3 298.9 L932.6 301.2 L931.9 302.3 L931.2 300.3 L930.5 296.6 L929.8 301.4 L929.1 300.1 L928.4 295.5 L927.7 293.3 L927.0 299.3 L926.3 299.3 L925.6 294.1 L924.9 297.8 L924.2 298.2 L923.5 292.3 L922.8 293.9 L922.1 292.5 L921.4 295.7 L920.7 296.9 L920.0 297.9 L919.3 296.1 L918.6 300.3 L917.9 295.6 L917.2 297.2 L916.5 294.9 L915.8 300.0 L915.1 295.0 L914.4 297.8 L913.7 294.6 L913.0 295.8 L912.3 301.8 L911.6 299.9 L910.9 300.1 L910.2 301.0 L909.5 292.6 L908.8 298.5 L908.1 297.3 L907.4 292.8 L906.7 296.0 L906.0 293.6 L905.3 296.0 L904.6 289.1 L903.9 293.3 L903.2 291.3 L902.5 297.1 L901.8 296.7 L901.1 296.7 L900.4 295.7 L899.7 298.3 L899.0 298.6 L898.3 292.8 L897.6 290.4 L896.9 294.5 L896.2 290.9 L895.5 299.2 L894.8 292.2 L894.1 292.8 L893.4 294.0 L892.7 290.9 L892.0 296.1 L891.3 292.2 L890.6 292.9 L889.9 299.2 L889.2 292.0 L888.5 289.9 L887.8 295.2 L887.1 291.7 L886.4 300.8 L885.7 296.7 L885.0 295.3 L884.3 303.0 L883.6 301.2 L882.9 296.3 L882.2 294.6 L881.5 298.3 L880.8 295.6 L880.1 296.5 L879.4 298.6 L878.7 294.0 L878.0 294.5 L877.3 294.9 L876.6 295.1 L875.9 286.4 L875.2 288.6 L874.5 285.7 L873.8 286.2 L873.1 290.2 L872.4 288.3 L871.7 290.4 L871.0 286.1 L870.3 289.7 L869.6 290.1 L868.9 285.5 L868.2 283.5 L867.5 282.3 L866.8 281.3 L866.1 269.5 L865.4 269.8 L864.7 264.1 L864.0 285.8 L863.3 294.0 L862.7 289.0 L862.6 290.0 L861.9 289.3 L861.2 288.6 L860.5 272.5 L859.8 274.4 L859.1 277.7 L858.4 279.4 L857.9 283.0 L857.8 282.4 L857.7 281.4 L857.0 273.7 L856.3 267.9 L855.6 255.5 L854.9 254.0 L854.2 254.7 L853.5 240.8 L853.4 243.6 L852.8 248.7 L852.1 251.2 L851.4 254.3 L850.7 258.9 L850.0 252.4 L849.3 260.7 L848.6 257.4 L847.9 247.0 L847.2 252.9 L846.5 255.8 L845.8 245.1 L845.1 237.5 L845.0 237.7 L844.4 235.5 L843.7 235.2 L843.0 228.3 L842.3 228.3 L841.6 231.9 L840.9 229.4 L840.2 225.1 L839.5 230.9 L839.5 221.3 L838.8 216.5 L838.1 211.1 L837.4 212.3 L836.7 213.5 L836.0 200.3 L835.3 199.3 L834.6 180.3 L833.9 200.2 L833.2 202.3 L832.5 196.3 L831.8 202.1 L831.1 205.5 L830.9 207.3 L830.4 200.6 L829.7 191.0 L829.0 205.8 L828.3 216.2 L827.6 220.4 L826.9 220.5 L826.7 223.7 L826.2 220.0 L825.5 217.9 L824.8 211.0 L824.1 204.3 L823.4 209.3 L822.7 208.5 L822.0 208.9 L821.3 203.1 L820.6 200.5 L819.9 238.3 L819.2 241.1 L818.5 246.5 L818.1 254.6 L817.8 247.9 L817.1 241.5 L816.4 233.3 L815.7 222.3 L815.0 218.5 L814.3 223.0 L813.6 224.8 L812.9 199.4 L812.2 248.9 L811.5 269.5 L810.8 272.2 L810.1 269.4 L809.4 273.0 L809.2 267.5 L808.7 273.9 L808.0 254.7 L807.3 256.6 L806.6 258.6 L805.9 263.8 L805.2 268.1 L804.5 269.5 L804.0 274.1 L803.8 269.2 L803.1 264.2 L802.4 264.6 L801.7 257.5 L801.0 272.0 L801.0 272.0 L800.3 252.8 L799.6 244.8 L798.9 229.7 L798.2 206.5 L797.5 232.1 L796.8 232.4 L796.1 237.1 L795.8 242.1 L795.4 235.8 L794.7 237.1 L794.0 238.7 L793.3 239.1 L792.6 234.5 L791.9 234.1 L791.2 233.2 L790.7 238.4 L790.5 237.2 L789.8 233.1 L789.1 228.3 L788.4 219.8 L787.7 211.2 L787.0 220.0 L786.4 227.9 L786.3 224.4 L785.6 222.2 L784.9 219.1 L784.2 196.0 L783.5 195.2 L782.8 191.7 L782.1 191.8 L781.4 193.2 L780.7 196.0 L780.0 219.8 L779.4 214.3 L779.3 228.9 L778.6 232.8 L777.9 234.9 L777.2 231.3 L776.5 235.7 L775.8 217.0 L775.1 219.8 L774.9 224.8 L774.4 216.0 L773.7 212.4 L773.0 202.9 L772.3 229.2 L771.6 225.0 L770.9 227.5 L770.2 221.3 L769.5 251.4 L768.8 250.7 L768.1 253.2 L767.4 252.0 L766.7 227.7 L766.7 246.8 L766.0 224.8 L765.3 216.5 L764.6 203.5 L763.9 203.2 L763.2 190.9 L762.5 186.8 L761.8 184.5 L761.1 190.0 L760.4 189.4 L759.7 203.2 L759.0 211.0 L758.3 215.7 L758.0 217.7 L757.6 214.3 L756.9 212.4 L756.2 213.0 L755.5 214.8 L754.8 208.7 L754.1 198.2 L753.4 211.9 L752.7 223.9 L752.0 229.7 L751.9 231.4 L751.3 229.1 L750.6 227.1 L749.9 220.0 L749.2 220.3 L748.5 227.5 L747.8 225.8 L747.7 226.3 L747.1 221.4 L746.4 224.0 L745.7 220.4 L745.0 234.8 L744.3 239.1 L743.6 245.9 L742.9 245.1 L742.6 246.0 L742.2 247.2 L741.5 244.2 L740.8 242.5 L740.1 267.0 L739.4 266.9 L738.7 268.2 L738.0 267.0 L737.3 262.9 L737.2 266.1 L736.6 258.0 L735.9 246.4 L735.2 237.6 L734.5 221.8 L733.8 216.1 L733.1 240.1 L732.4 240.4 L731.7 251.0 L731.0 253.9 L730.3 260.8 L730.0 266.0 L729.6 265.4 L728.9 266.5 L728.2 269.3 L727.5 275.4 L727.3 280.0 L726.8 272.0 L726.1 262.1 L725.8 260.6 L725.4 259.7 L724.7 247.7 L724.0 247.1 L723.3 231.9 L722.6 235.1 L721.9 240.3 L721.5 250.7 L721.2 242.0 L720.5 238.8 L719.8 264.0 L719.1 271.6 L718.4 264.8 L717.7 265.8 L717.0 268.1 L716.3 266.1 L715.6 263.6 L714.9 260.1 L714.2 268.0 L713.5 272.9 L712.8 278.6 L712.6 284.8 L712.1 277.5 L712.0 278.0 L711.4 275.3 L710.7 269.7 L710.0 248.5 L709.3 261.3 L708.6 264.1 L707.9 266.8 L707.2 262.6 L706.5 272.7 L705.8 274.2 L705.1 276.4 L704.4 279.4 L703.8 279.9 L703.7 279.0 L703.0 276.5 L702.3 276.9 L701.6 279.2 L700.9 275.9 L700.2 279.6 L700.0 282.4 L699.5 279.6 L698.8 275.9 L698.8 276.6 L698.1 274.6 L697.4 244.6 L696.7 236.4 L696.0 221.6 L695.3 229.9 L694.6 220.9 L693.9 219.9 L693.2 223.5 L692.5 224.3 L691.8 218.0 L691.1 228.5 L691.0 230.2 L690.4 227.8 L689.7 226.4 L689.0 224.9 L688.3 210.8 L687.6 210.0 L686.9 203.9 L686.2 207.4 L685.5 200.9 L684.8 201.8 L684.1 210.7 L683.4 216.6 L682.7 221.2 L682.5 227.3 L682.0 220.8 L681.3 212.2 L680.6 213.8 L679.9 229.9 L679.2 237.2 L678.5 237.6 L677.8 241.6 L677.1 247.6 L677.1 246.3 L676.4 235.3 L675.7 241.6 L675.0 236.7 L674.3 236.8 L673.6 262.0 L672.9 267.2 L672.2 273.6 L671.5 281.6 L671.1 285.8 L670.8 281.4 L670.1 275.9 L669.4 272.2 L668.7 271.6 L668.0 272.0 L668.0 272.0 L667.3 269.2 L666.6 272.4 L665.9 263.5 L665.2 253.0 L664.5 250.5 L663.8 249.6 L663.2 247.1 L663.1 245.8 L662.4 239.2 L661.7 229.1 L661.0 227.3 L660.3 219.0 L659.6 224.7 L658.9 245.2 L658.2 247.7 L657.5 252.6 L656.8 252.5 L656.1 253.0 L655.7 230.8 L655.4 242.9 L654.7 218.4 L654.0 220.5 L653.3 219.8 L652.6 218.5 L651.9 225.4 L651.2 231.7 L651.1 235.3 L650.5 225.7 L649.8 219.3 L649.1 214.1 L648.4 218.7 L647.7 213.1 L647.0 206.0 L646.3 206.4 L645.6 206.4 L644.9 210.5 L644.2 214.5 L643.5 222.1 L642.8 232.3 L642.5 243.7 L642.1 237.5 L641.4 236.5 L640.7 229.5 L640.0 231.2 L639.3 235.9 L638.6 239.3 L638.3 245.0 L637.9 237.4 L637.2 229.5 L636.5 220.0 L635.8 240.7 L635.1 239.1 L634.4 241.7 L634.2 244.0 L633.7 242.1 L633.0 235.9 L632.3 232.2 L631.6 227.4 L630.9 229.5 L630.2 236.7 L629.5 238.9 L628.8 239.9 L628.1 245.1 L627.7 250.1 L627.4 248.1 L626.7 232.7 L626.0 223.5 L625.3 243.5 L624.6 248.4 L623.9 243.5 L623.2 248.1 L622.5 244.6 L621.8 243.3 L621.1 250.3 L620.4 243.5 L619.7 232.7 L619.2 234.4 L619.0 233.7 L618.3 241.5 L617.6 236.2 L616.9 237.6 L616.2 248.1 L615.5 255.7 L614.8 256.6 L614.1 257.7 L613.4 258.9 L612.7 252.6 L612.0 254.0 L611.3 248.5 L611.3 243.6 L610.6 249.5 L609.9 251.2 L609.2 227.6 L608.5 227.8 L607.8 228.1 L607.1 233.2 L606.4 240.6 L605.7 256.5 L605.0 264.6 L604.6 269.8 L604.3 267.7 L604.0 270.0 L603.6 268.0 L602.9 266.8 L602.2 262.3 L601.5 262.9 L600.8 275.0 L600.1 283.0 L600.0 288.1 L599.4 271.1 L598.7 265.8 L598.0 260.2 L597.3 246.7 Z" fill="#dcdcdc"/>
<path d="M597.3 227.7 L598.5 239.4 L599.7 232.4 L601.1 242.4 L602.2 247.4 L603.1 233.2 L604.6 230.0 L605.5 222.3 L606.4 216.3 L607.6 215.5 L609.0 203.4 L609.3 202.0 L610.3 206.1 L611.4 239.9 L612.7 226.4 L613.7 243.8 L614.0 239.0 L614.9 237.1 L616.0 229.1 L617.0 226.1 L618.2 217.9 L619.5 197.3 L620.1 187.0 L620.6 195.5 L621.9 235.9 L623.0 236.2 L623.2 236.0 L624.0 227.0 L624.8 196.0 L625.1 202.6 L626.4 206.2 L627.6 204.5 L629.0 227.7 L630.4 194.0 L631.7 218.1 L633.2 206.6 L634.3 223.5 L635.2 201.3 L636.5 203.7 L637.7 198.1 L639.1 208.7 L640.1 215.6 L641.1 209.7 L642.5 200.4 L643.3 184.0 L643.8 191.7 L644.8 199.7 L646.1 186.1 L646.3 184.0 L647.5 193.7 L648.8 199.5 L649.9 204.0 L650.9 190.5 L651.9 196.4 L652.9 205.6 L654.0 200.5 L655.4 177.1 L655.6 174.7 L656.7 229.2 L657.1 236.3 L657.6 231.7 L659.1 212.0 L660.4 207.8 L661.7 208.9 L662.9 215.5 L664.4 233.3 L664.8 236.0 L665.8 238.1 L667.1 255.7 L668.5 254.4 L669.0 256.0 L669.8 253.5 L671.0 259.0 L672.3 252.0 L673.4 220.5 L674.7 223.7 L676.0 211.7 L677.3 214.2 L678.5 221.5 L680.0 182.2 L680.0 181.7 L681.3 194.4 L682.3 193.4 L683.7 190.9 L685.0 180.7 L686.4 186.7 L686.6 185.6 L687.6 192.4 L688.8 203.2 L690.2 208.3 L691.2 199.5 L692.2 190.4 L693.4 208.9 L694.8 205.5 L695.8 213.6 L696.7 207.6 L698.1 225.4 L699.0 261.3 L700.1 255.8 L701.0 263.7 L701.0 263.6 L702.3 263.6 L703.8 260.9 L704.8 262.2 L706.0 254.8 L707.1 256.3 L708.3 247.2 L709.7 236.5 L710.6 237.5 L711.2 231.7 L711.8 247.4 L712.7 251.8 L713.2 249.7 L714.6 238.3 L715.8 245.7 L717.2 253.7 L718.5 256.2 L720.0 213.2 L721.4 213.6 L722.0 210.0 L722.5 201.3 L723.7 218.1 L724.6 212.7 L725.5 231.9 L726.9 239.7 L727.9 247.9 L728.1 248.7 L729.2 238.4 L730.4 238.2 L731.6 224.2 L732.9 194.3 L734.2 189.8 L734.3 188.5 L735.3 205.4 L736.7 221.4 L737.9 237.5 L738.9 242.5 L739.1 252.1 L740.0 233.8 L741.4 226.6 L742.6 231.0 L743.8 221.1 L745.2 202.2 L746.4 206.2 L747.8 198.5 L749.1 208.9 L750.1 210.7 L751.1 205.8 L752.2 195.3 L753.5 187.4 L754.3 185.5 L754.7 187.4 L755.9 200.2 L757.1 194.8 L758.3 190.3 L759.6 166.3 L760.5 165.4 L760.6 163.5 L762.0 175.5 L763.4 172.4 L763.6 171.6 L764.9 192.0 L766.3 199.8 L767.2 212.3 L768.2 239.4 L768.2 240.2 L769.5 214.0 L771.0 212.9 L771.9 189.9 L773.0 170.8 L773.2 173.8 L774.2 188.7 L775.4 194.1 L776.4 199.0 L777.9 221.8 L778.8 203.3 L780.2 168.4 L780.8 155.4 L781.4 160.7 L782.3 181.0 L783.7 163.4 L783.9 170.8 L784.8 180.0 L785.8 203.4 L787.2 192.8 L788.6 186.3 L789.8 209.7 L791.2 216.3 L792.6 201.0 L793.7 223.3 L795.1 204.3 L796.2 214.7 L797.4 185.7 L797.8 180.0 L798.5 193.3 L800.0 213.5 L801.1 217.9 L802.2 230.8 L803.5 241.5 L804.4 238.9 L805.5 248.0 L805.8 245.8 L806.8 230.8 L807.7 239.8 L808.9 239.7 L810.1 257.0 L810.2 256.0 L811.1 234.6 L812.5 187.0 L813.2 167.8 L813.7 173.9 L814.9 211.0 L816.0 207.6 L817.3 205.6 L818.5 219.9 L819.8 190.4 L820.8 169.4 L820.9 167.8 L822.1 192.0 L823.1 177.4 L824.5 194.9 L825.7 186.4 L826.8 204.5 L827.9 188.1 L829.3 175.0 L830.1 161.6 L830.5 166.3 L831.4 184.5 L832.7 186.4 L833.8 168.3 L834.8 167.8 L835.0 170.6 L836.5 190.9 L837.9 198.5 L839.2 194.5 L840.4 214.3 L841.7 208.8 L843.2 218.4 L844.6 218.2 L845.8 222.6 L846.7 231.5 L848.0 240.5 L849.3 238.1 L850.4 245.3 L851.8 237.6 L853.1 210.0 L853.2 209.7 L854.1 216.7 L855.3 244.8 L856.7 227.7 L858.2 246.6 L859.3 257.9 L860.3 258.4 L861.5 259.4 L862.4 278.2 L863.7 254.0 L864.8 228.4 L864.8 230.0 L865.2 235.3 L865.6 238.0 L866.0 245.1 L866.4 252.1 L866.4 250.0 L866.8 254.6 L867.2 258.2 L867.6 261.7 L868.0 267.8 L868.1 266.0 L868.4 267.4 L868.8 268.6 L869.2 270.1 L869.6 271.8 L869.8 272.8 L870.0 273.4 L870.4 274.6 L870.8 275.2 L871.2 274.7 L871.6 275.3 L872.0 276.2" fill="none" stroke="#ff0000" stroke-width="2.8" stroke-linejoin="round"/>
<path d="M869.2 270.1 L869.6 271.8 L869.8 272.8 L870.0 273.4 L870.4 274.6 L870.8 275.2 L871.2 274.7 L871.6 275.3 L872.0 276.2 L872.4 277.8 L872.8 276.7 L873.1 277.7 L873.2 279.6 L873.6 276.0 L874.0 279.1 L874.4 277.2 L874.8 276.9 L875.2 275.3 L875.3 276.6 L875.6 277.0 L876.0 277.4 L876.4 276.1 L876.8 278.5 L877.2 278.2 L877.6 279.4 L878.0 279.1 L878.4 280.6 L878.5 278.7 L878.8 282.0 L879.2 283.2 L879.6 283.3 L880.0 283.8 L880.4 283.5 L880.8 282.7 L881.2 286.5 L881.6 283.7 L881.7 284.0 L882.0 284.5 L882.4 286.6 L882.8 284.1 L883.2 285.4 L883.6 284.9 L884.0 285.8 L884.4 288.4 L884.8 285.4 L884.9 288.3 L885.2 284.7 L885.6 285.2 L886.0 282.7 L886.4 281.5 L886.8 281.8 L887.2 279.8 L887.6 279.2 L888.0 279.3 L888.1 278.7 L888.4 278.5 L888.8 281.5 L889.2 279.5 L889.6 282.1 L890.0 281.3 L890.4 282.5 L890.8 284.6 L891.2 282.8 L891.3 284.0 L891.6 282.9 L892.0 283.8 L892.4 283.5 L892.8 281.2 L893.2 281.2 L893.6 282.7 L894.0 284.5 L894.4 282.3 L894.8 282.4 L895.2 281.8 L895.5 281.9 L895.6 282.4 L896.0 279.6 L896.4 279.3 L896.8 280.5 L897.2 281.5 L897.6 280.7 L898.0 281.1 L898.4 280.1 L898.7 279.8 L898.8 280.7 L899.2 282.7 L899.6 284.2 L900.0 283.1 L900.4 283.6 L900.8 286.3 L900.9 286.2 L901.2 285.7 L901.6 283.5 L902.0 285.1 L902.4 284.0 L902.8 281.6 L903.2 280.9 L903.6 281.2 L904.0 281.7 L904.1 280.8 L904.4 279.6 L904.8 280.4 L905.2 281.3 L905.6 280.5 L906.0 281.8 L906.4 280.1 L906.8 281.3 L907.2 283.1 L907.6 282.7 L908.0 282.5 L908.4 283.0 L908.4 281.9 L908.8 284.6 L909.2 283.2 L909.6 284.7 L910.0 283.0 L910.4 282.4 L910.8 282.5 L911.2 284.9 L911.6 286.0 L912.0 287.4 L912.4 285.6 L912.6 286.2 L912.8 284.6 L913.2 287.1 L913.6 288.4 L914.0 288.1 L914.4 286.3 L914.8 287.4 L915.2 286.1 L915.6 288.0 L916.0 288.2 L916.4 288.4 L916.8 288.6 L916.9 288.3 L917.2 287.9 L917.6 287.7 L918.0 287.5 L918.4 288.5 L918.8 287.9 L919.2 285.0 L919.6 284.1 L920.0 285.6 L920.4 285.8 L920.8 283.6 L921.2 284.0 L921.2 284.6 L921.6 284.1 L922.0 283.3 L922.4 282.7 L922.8 286.2 L923.2 285.4 L923.6 285.6 L924.0 285.6 L924.4 284.2 L924.8 283.6 L925.2 283.4 L925.4 285.0 L925.6 283.1 L926.0 286.9 L926.4 285.0 L926.8 286.8 L927.2 286.1 L927.6 284.6 L928.0 285.7 L928.4 284.9 L928.8 284.5 L929.2 285.0 L929.6 285.5 L929.7 286.2 L930.0 284.6 L930.4 285.0 L930.8 287.1 L931.2 285.9 L931.6 286.7 L932.0 287.0 L932.4 287.4 L932.8 287.1 L933.2 285.0 L933.6 286.4 L934.0 284.0 L934.0 284.7 L934.4 285.5 L934.8 281.8 L935.2 284.9 L935.6 283.8 L936.0 282.7 L936.4 281.5 L936.8 281.8 L937.2 281.3 L937.6 281.3 L938.0 279.6 L938.2 280.8 L938.4 279.9 L938.8 278.7 L939.2 283.1 L939.6 283.3 L940.0 283.2 L940.4 282.9 L940.8 283.9 L941.2 283.2 L941.6 282.2 L942.0 281.5 L942.4 282.6 L942.5 284.0 L942.8 281.3 L943.2 284.4 L943.6 282.2 L944.0 280.9 L944.4 282.8 L944.8 280.8 L945.2 283.0 L945.6 279.8 L945.7 280.8 L946.0 282.5 L946.4 281.2 L946.8 282.9 L947.2 282.8 L947.6 286.9 L948.0 285.6 L948.4 286.6 L948.8 283.8 L948.9 286.2 L949.2 284.7 L949.6 286.9 L950.0 283.9 L950.4 286.3 L950.8 282.4 L951.0 283.0 L951.2 282.5 L951.6 282.8 L952.0 282.8 L952.4 285.5 L952.8 285.2 L953.2 286.0 L953.6 284.8 L954.0 287.2 L954.4 287.0 L954.8 287.9 L955.2 286.7 L955.3 287.2 L955.6 285.4 L956.0 286.8 L956.4 288.6 L956.8 286.5 L957.2 287.3 L957.6 288.4 L958.0 289.6 L958.4 287.8 L958.8 290.6 L959.2 291.4 L959.6 290.4 L959.6 289.0 L960.0 290.9 L960.4 290.9 L960.8 291.0 L961.2 292.2 L961.6 291.4 L962.0 290.9 L962.4 291.2 L962.8 291.5 L963.2 293.2 L963.6 293.6 L963.8 291.5 L964.0 291.9 L964.4 291.5 L964.8 289.3 L965.2 291.7 L965.6 292.2 L966.0 288.8 L966.4 289.2 L966.8 288.9 L967.2 289.8 L967.6 289.5 L968.0 288.4 L968.1 289.4 L968.4 287.5 L968.8 286.7 L969.2 285.6 L969.6 286.3 L970.0 285.7 L970.2 286.2 L970.4 284.7 L970.8 279.8 L971.2 278.6 L971.6 277.3 L972.0 272.8 L972.4 272.3 L972.4 269.8 L972.8 269.6 L973.2 271.7 L973.6 269.7 L974.0 271.1 L974.4 267.8 L974.5 269.1 L974.8 266.6 L975.2 264.9 L975.6 262.0 L976.0 262.5 L976.2 260.5 L976.4 262.2 L976.8 262.4 L977.2 264.8 L977.6 269.7 L977.7 269.1 L978.0 273.9 L978.4 283.7 L978.8 290.4 L978.8 289.6 L979.2 288.1 L979.6 289.7 L980.0 289.4 L980.4 289.0 L980.8 289.5 L981.2 288.5 L981.6 285.9 L982.0 286.2 L982.0 285.6 L982.4 282.7 L982.8 282.3 L983.2 280.9 L983.6 281.6 L984.0 279.4 L984.1 279.8 L984.4 276.7 L984.8 275.8 L985.2 272.0 L985.6 270.1 L986.0 270.2 L986.2 268.0 L986.4 267.9 L986.8 269.5 L987.2 273.2 L987.6 277.1 L988.0 277.3 L988.4 279.8 L988.4 280.2 L988.8 283.2 L989.2 284.5 L989.6 284.0 L990.0 286.6 L990.4 287.6 L990.5 290.4 L990.8 286.4 L991.2 285.5 L991.6 282.5 L992.0 281.1 L992.4 280.8 L992.8 276.3 L993.2 275.6 L993.2 275.5 L993.6 275.5 L994.0 276.7 L994.4 277.8 L994.8 277.4 L995.2 280.0 L995.6 282.0 L996.0 282.2 L996.4 285.8 L996.4 284.0 L996.8 283.1 L997.2 283.1 L997.6 279.7 L998.0 278.0 L998.4 277.5 L998.8 275.3 L999.0 275.5 L999.2 275.9 L999.6 275.9 L1000.0 278.6 L1000.4 280.5 L1000.8 279.8 L1001.2 282.5 L1001.6 284.3 L1001.7 286.2 L1002.0 285.8 L1002.4 285.0 L1002.8 286.8 L1003.2 286.9 L1003.6 287.4 L1003.9 289.4 L1004.0 287.8 L1004.4 286.1 L1004.8 284.9 L1005.2 285.8 L1005.6 285.0 L1006.0 283.0 L1006.4 284.3 L1006.8 281.9 L1007.1 281.9 L1007.2 281.9 L1007.6 278.6 L1008.0 274.8 L1008.4 273.0 L1008.8 269.1 L1009.2 265.5 L1009.6 263.5 L1010.0 259.7 L1010.4 256.8 L1010.7 255.2 L1010.8 255.8 L1011.2 262.4 L1011.6 268.9 L1012.0 274.0 L1012.4 281.8 L1012.4 281.9 L1012.8 283.4 L1013.2 285.7 L1013.6 286.1 L1014.0 289.1 L1014.4 289.6 L1014.5 289.4 L1014.8 289.9 L1015.2 290.5 L1015.6 288.4 L1016.0 287.6 L1016.4 285.7 L1016.7 286.2 L1016.8 285.0 L1017.2 278.2 L1017.6 272.4 L1018.0 267.1 L1018.2 266.5 L1018.4 266.4 L1018.8 272.3 L1019.2 275.2 L1019.6 280.1 L1019.9 284.0 L1020.0 283.5 L1020.4 279.9 L1020.8 279.6 L1021.2 278.2 L1021.6 276.5 L1022.0 275.5 L1022.0 275.5 L1022.4 273.1 L1022.8 270.2 L1023.2 265.1 L1023.6 262.5 L1023.7 260.1 L1024.0 263.7 L1024.4 263.2 L1024.8 264.7 L1025.2 265.1 L1025.2 267.0 L1025.6 269.8 L1026.0 268.9 L1026.4 271.2 L1026.8 272.4 L1027.2 276.2 L1027.3 273.4 L1027.6 276.2 L1028.0 275.4 L1028.4 280.0 L1028.8 281.1 L1029.2 282.8 L1029.5 286.2 L1029.6 286.4 L1030.0 286.1 L1030.4 289.0 L1030.8 287.5 L1031.2 289.6 L1031.6 289.5 L1032.0 290.7 L1032.4 290.1 L1032.7 290.4 L1032.8 289.7 L1033.2 291.7 L1033.6 291.8 L1034.0 291.7 L1034.4 293.0 L1034.8 294.4 L1034.8 294.7 L1035.2 294.1 L1035.6 292.6 L1036.0 290.7 L1036.4 291.8 L1036.8 290.1 L1037.2 292.7 L1037.6 291.3 L1038.0 289.3 L1038.0 290.4 L1038.4 288.3 L1038.8 286.6 L1039.2 285.7 L1039.6 285.0 L1040.0 284.3 L1040.1 281.9 L1040.4 281.8 L1040.8 277.8 L1041.2 274.9 L1041.6 272.1 L1042.0 272.5 L1042.3 271.2 L1042.4 270.4 L1042.8 269.5 L1043.2 270.7 L1043.6 274.5 L1044.0 275.6 L1044.4 276.5 L1044.4 275.5 L1044.8 278.2 L1045.2 277.8 L1045.6 280.7 L1046.0 281.5 L1046.4 282.4 L1046.8 284.2 L1047.2 285.5 L1047.6 288.5 L1047.6 286.2 L1048.0 287.1 L1048.4 285.0 L1048.8 285.3 L1049.2 284.1 L1049.6 283.6 L1050.0 284.7 L1050.4 283.2 L1050.8 281.8 L1050.8 283.0 L1051.2 282.5 L1051.6 281.8 L1052.0 281.1 L1052.4 283.4 L1052.8 282.7 L1053.2 282.0 L1053.6 282.3 L1054.0 282.3 L1054.0 281.9 L1054.4 281.7 L1054.8 283.1 L1055.2 286.4 L1055.6 287.7 L1056.0 289.0 L1056.4 290.9 L1056.6 292.6 L1056.8 291.3 L1057.2 288.4 L1057.6 288.5 L1058.0 285.7 L1058.4 282.8 L1058.7 279.8 L1058.8 280.8 L1059.2 278.2 L1059.6 276.8 L1060.0 274.4 L1060.4 274.3 L1060.8 270.8 L1061.1 271.2 L1061.2 272.2 L1061.6 274.7 L1062.0 275.7 L1062.4 280.5 L1062.8 280.3 L1063.2 284.9 L1063.6 286.0 L1063.6 284.0 L1064.0 285.8 L1064.4 283.1 L1064.8 285.1 L1065.2 286.3 L1065.6 285.4 L1066.0 284.3 L1066.4 284.0 L1066.4 286.9 L1066.8 284.8 L1067.2 282.0 L1067.6 279.6 L1068.0 279.0 L1068.4 276.3 L1068.8 274.9 L1069.2 274.0 L1069.4 272.3 L1069.6 276.0 L1070.0 280.7 L1070.4 282.6 L1070.8 286.3 L1071.1 290.4 L1071.2 289.2 L1071.6 290.6 L1072.0 286.6 L1072.4 287.9 L1072.8 287.4 L1073.2 286.0 L1073.6 283.5 L1073.7 284.0 L1074.0 285.7 L1074.4 286.5 L1074.8 285.5 L1075.2 287.9 L1075.6 289.5 L1076.0 292.6 L1076.4 291.5 L1076.4 293.6 L1076.8 294.0 L1077.2 293.0 L1077.6 296.4 L1078.0 295.5 L1078.4 298.9 L1078.6 297.9 L1078.8 297.9 L1079.2 296.9 L1079.6 296.4 L1080.0 296.4 L1080.4 294.3 L1080.8 295.5 L1081.2 293.8 L1081.6 292.3 L1081.8 292.6 L1082.0 288.9 L1082.4 282.0 L1082.8 274.3 L1083.2 268.1 L1083.5 263.7 L1083.6 267.3 L1084.0 273.5 L1084.4 282.4 L1084.8 293.0 L1085.0 294.7 L1085.2 295.2 L1085.6 294.2 L1086.0 293.9 L1086.4 295.3 L1086.8 295.6 L1087.2 298.2 L1087.6 297.3 L1088.0 298.1 L1088.2 296.8 L1088.4 295.8 L1088.8 297.3 L1089.2 296.6 L1089.6 299.8 L1090.0 298.1 L1090.4 297.4 L1090.8 297.6 L1091.2 299.2 L1091.4 299.0 L1091.6 300.2 L1092.0 296.6 L1092.4 295.6 L1092.8 294.7 L1093.2 289.5 L1093.6 287.8 L1094.0 286.3 L1094.1 284.0 L1094.4 285.0 L1094.8 287.8 L1095.2 290.4 L1095.6 295.2 L1095.6 295.8 L1096.0 295.8 L1096.4 295.3 L1096.8 295.3 L1097.2 293.3 L1097.6 293.7 L1098.0 294.4 L1098.4 291.4 L1098.8 291.9 L1098.8 292.6 L1099.2 292.0 L1099.6 290.5 L1100.0 290.0 L1100.4 287.6 L1100.8 288.4 L1101.2 288.5 L1101.6 287.5 L1102.0 288.2 L1102.0 289.4 L1102.4 288.6 L1102.8 288.2 L1103.2 289.0 L1103.6 291.2 L1104.0 291.2 L1104.4 293.0 L1104.8 289.3 L1105.2 291.6 L1105.2 290.4 L1105.6 290.9 L1106.0 288.8 L1106.4 285.8 L1106.8 288.0 L1107.2 287.2 L1107.4 286.2 L1107.6 283.3 L1108.0 279.9 L1108.4 279.6 L1108.8 275.8 L1109.2 275.4 L1109.5 273.4 L1109.6 273.6 L1110.0 275.6 L1110.4 274.1 L1110.8 275.2 L1111.2 276.4 L1111.6 276.9 L1111.6 277.6 L1112.0 279.0 L1112.4 281.7 L1112.8 282.1 L1113.2 284.0 L1113.6 284.7 L1113.8 288.3 L1114.0 283.3 L1114.4 277.7 L1114.8 273.7 L1115.2 267.2 L1115.5 264.8 L1115.6 264.0 L1116.0 271.2 L1116.4 273.2 L1116.8 275.6 L1117.2 280.5 L1117.6 283.5 L1117.6 284.0 L1118.0 285.6 L1118.4 283.6 L1118.8 285.0 L1119.2 287.2 L1119.6 288.8 L1120.0 290.4 L1120.2 290.4 L1120.4 291.6 L1120.8 290.3 L1121.2 292.2 L1121.6 292.5 L1122.0 292.6 L1122.4 291.9 L1122.8 293.7 L1123.2 291.2 L1123.4 293.6 L1123.6 294.5 L1124.0 291.4 L1124.4 292.6 L1124.8 294.3 L1125.2 291.0 L1125.6 292.0 L1126.0 291.3 L1126.4 290.6 L1126.6 289.4 L1126.8 289.1 L1127.2 288.5 L1127.6 290.5 L1128.0 289.8 L1128.3 289.4" fill="none" stroke="#ff0000" stroke-width="2.6" stroke-linejoin="round"/>
<g stroke="#0c9a1c" stroke-width="2.8" stroke-dasharray="10.6 3.4" stroke-dashoffset="1.8">
 <path d="M862.4 89 V321"/>
 <path d="M950.7 89 V321"/>
</g>
<g stroke="#1a1a1a" stroke-width="2.8" fill="none">
 <path d="M597.3 88.4 V321.3 H1128.3 V313"/>
 <path d="M597.3 89.8 H604 M597.3 136.1 H604 M597.3 182.4 H604 M597.3 228.7 H604 M597.3 274.9 H604"/>
 <path d="M685.8 321.3 V313 M774.1 321.3 V313 M862.5 321.3 V313 M950.8 321.3 V313 M1039.2 321.3 V313"/>
</g>
<g font-size="24" fill="#000" text-anchor="end">
 <text x="588.2" y="94.8">60</text>
 <text x="588.2" y="141.3">40</text>
 <text x="588.2" y="187.6">20</text>
 <text x="588.2" y="233.9">0</text>
 <text x="588.2" y="280.1">-20</text>
 <text x="588.2" y="326.5">-40</text>
</g>
<g font-size="24" fill="#000" text-anchor="middle">
 <text x="597.6" y="346.6">0</text>
 <text x="693.2" y="346.6">100</text>
 <text x="781.5" y="346.6">200</text>
 <text x="869.9" y="346.6">300</text>
 <text x="958.2" y="346.6">400</text>
 <text x="1046.6" y="346.6">500</text>
 <text x="1134.9" y="346.6">600</text>
</g>
<text x="820.5" y="383" font-size="24" fill="#000">Time(s)</text>
<text x="824.5" y="68.9" font-size="21.1" fill="#000">Sucrose Consumption</text>
<path d="M544 225.6 L530.6 231.7 L544 237.8" fill="none" stroke="#000" stroke-width="0.9" stroke-linejoin="miter"/>
<path d="M543.7 225.4 V238" stroke="#000" stroke-width="1.5"/>
<g transform="translate(544.6 219.5) rotate(-90)">
 <text x="0" y="0" font-size="23.8" fill="#000">F/F (%)</text>
</g>
</svg>
</body></html>
